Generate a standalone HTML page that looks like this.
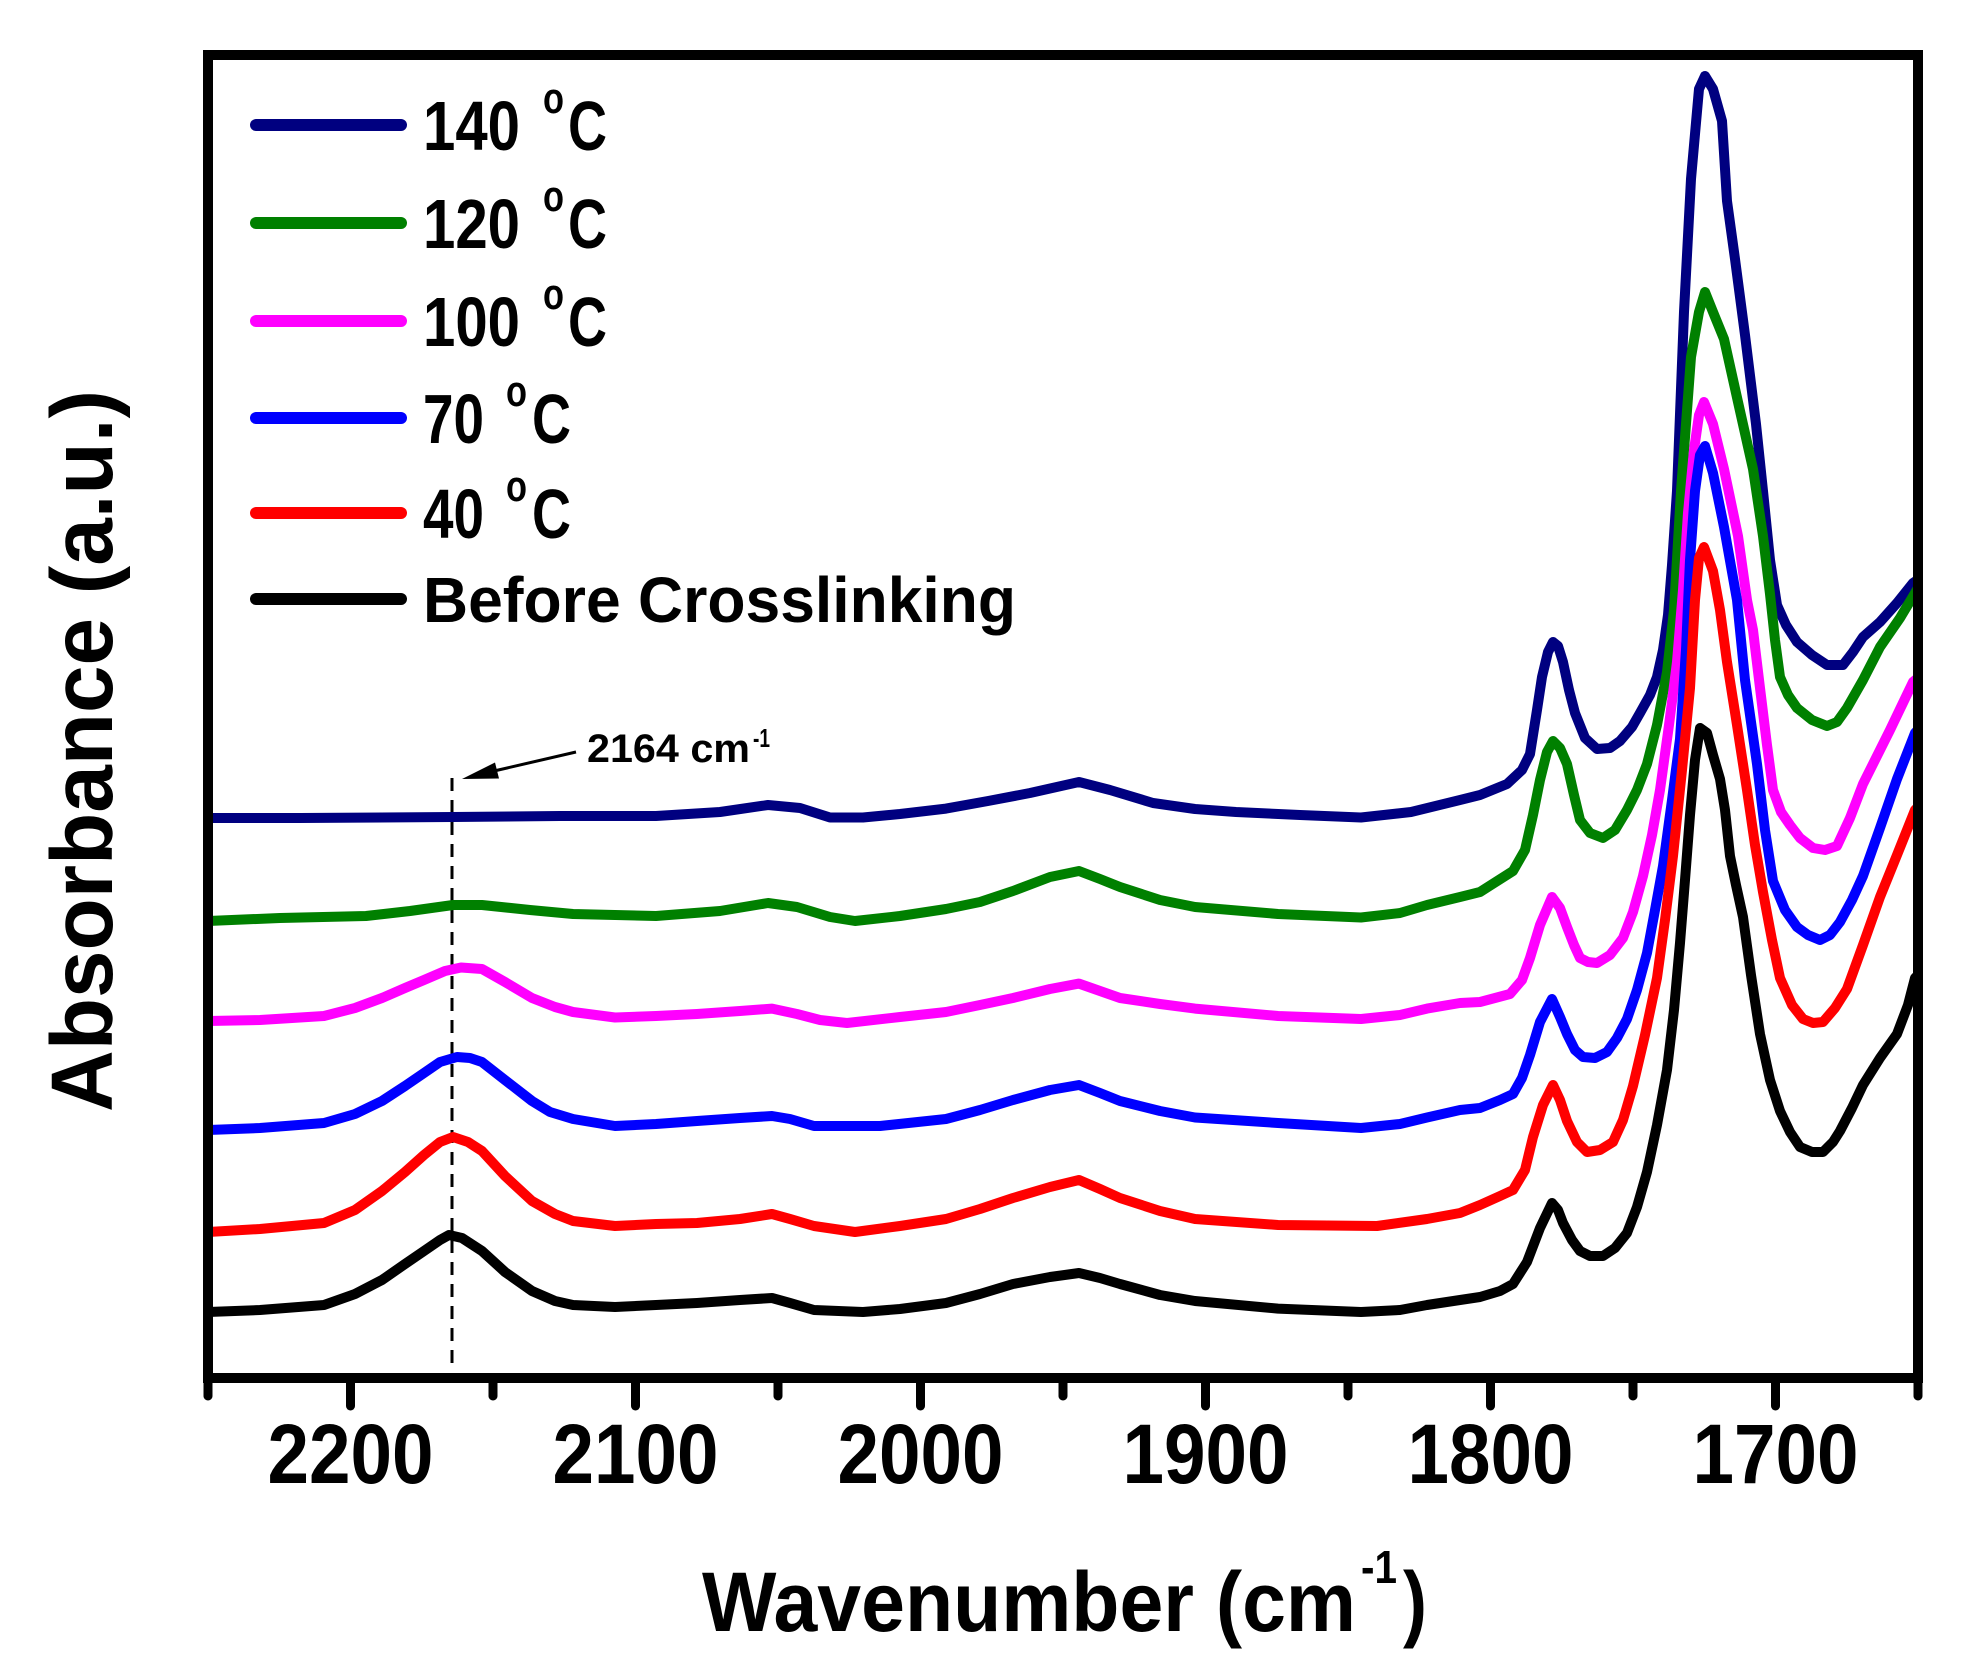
<!DOCTYPE html>
<html>
<head>
<meta charset="utf-8">
<style>
  html, body { margin: 0; padding: 0; background: #ffffff; }
  svg { display: block; }
  text { font-family: "Liberation Sans", Arial, sans-serif; font-weight: bold; fill: #000; }
</style>
</head>
<body>
<svg width="1964" height="1680" viewBox="0 0 1964 1680" xmlns="http://www.w3.org/2000/svg">
  <rect x="0" y="0" width="1964" height="1680" fill="#ffffff"/>
  <defs>
    <clipPath id="plot">
      <rect x="208" y="55" width="1710" height="1323"/>
    </clipPath>
  </defs>

  <!-- dashed marker line -->
  <line x1="452" y1="778" x2="452" y2="1363" stroke="#000" stroke-width="3" stroke-dasharray="13 9"/>

  <g clip-path="url(#plot)" fill="none" stroke-width="10" stroke-linejoin="round" stroke-linecap="round">
    <!-- 140 C navy -->
    <polyline stroke="#000080" points="208,818 300,818 453,817 560,816 656,816 720,812 768,805 800,808 830,817.5 863,817.5 900,814 946,808.6 988,801 1030,793 1079,782 1110,790 1153,803 1195,809 1236,812 1300,815 1361,817.5 1411,812 1460,800 1480,795 1507,784 1522,770 1530,754 1537,710 1542,677 1548,652 1553,642 1558,646 1563,662 1569,690 1575,713 1585,738 1597,749 1610,748 1620,741 1632,727 1640,713 1650,695 1657,677 1663,650 1668,615 1672,565 1677,491 1684,312 1691,179 1699,89 1705,76 1713,89 1722,121 1727,201 1735,259 1745,335 1756,424 1763,491 1770,560 1777,605 1786,625 1797,642 1812,655 1827,665 1843,665 1853,652 1863,637 1880,622 1897,603 1913,583 1925,575"/>
    <!-- 120 C green -->
    <polyline stroke="#008000" points="208,921 280,918 366,916 410,911 453,905 482,905 530,910 573,914 656,916 720,911 768,903 797,907 830,917 855,921 900,916 946,909 980,902 1013,891 1050,877 1079,871 1100,879 1120,887 1160,900 1195,907 1278,914 1361,917.5 1400,913 1427,905 1460,897 1480,892 1513,871 1525,850 1533,815 1540,780 1547,752 1553,741 1560,748 1567,764 1574,795 1580,820 1590,833 1603,838 1615,830 1627,810 1637,790 1647,764 1657,725 1667,672 1674,610 1681,491 1691,357 1699,312 1705,292 1713,312 1724,339 1738,402 1753,469 1763,536 1770,594 1775,640 1780,677 1788,695 1797,708 1812,720 1827,726 1837,722 1847,708 1863,680 1880,647 1900,618 1918,588 1925,580"/>
    <!-- 100 C magenta -->
    <polyline stroke="#ff00ff" points="208,1021 260,1020 324,1016 355,1008 382,998 405,988 424,980 445,971 461,967.5 482,969 505,982 532,998 555,1007 573,1012 615,1017.5 656,1016 697,1014 740,1011 772,1008.6 797,1014 820,1020 847,1023 900,1017 946,1012 980,1005 1013,998 1050,989 1079,983.6 1100,991 1120,998 1160,1004 1195,1008.6 1278,1016 1361,1019 1400,1015 1427,1008.6 1460,1003 1480,1002 1495,998 1510,994 1522,980 1530,958 1540,925 1552,897 1560,908 1567,927 1574,945 1580,958 1588,962 1597,963 1610,955 1623,938 1633,912 1643,876 1652,835 1660,790 1669,725 1677,662 1683,590 1688,513 1694,450 1699,415 1704,402 1713,424 1724,469 1738,536 1747,600 1753,630 1760,688 1767,745 1773,790 1781,812 1790,825 1800,838 1813,848 1825,850 1837,846 1850,818 1863,784 1890,730 1913,682 1925,672"/>
    <!-- 70 C blue -->
    <polyline stroke="#0000ff" points="208,1130 260,1128 324,1123 355,1114 382,1101 405,1086 424,1073 440,1062 457,1057 470,1058 482,1062 505,1080 532,1101 550,1112 573,1119 615,1126 656,1124 697,1121 740,1118 772,1116 790,1119 814,1126 880,1126 946,1119 980,1110 1013,1100 1050,1090 1079,1085 1100,1093 1120,1101 1160,1111 1195,1117.5 1278,1123 1361,1128 1400,1124 1427,1117.5 1460,1110 1480,1108 1500,1100 1513,1094 1522,1078 1530,1055 1540,1022 1552,999 1560,1017 1567,1034 1575,1050 1583,1057 1595,1058 1607,1052 1617,1038 1627,1019 1637,990 1647,953 1655,910 1663,866 1672,800 1680,739 1686,650 1690,560 1695,491 1700,455 1705,446 1713,473 1724,527 1737,600 1745,680 1757,764 1765,830 1773,881 1785,910 1797,927 1808,935 1820,940 1830,935 1840,922 1852,900 1863,876 1880,828 1897,779 1915,733 1925,722"/>
    <!-- 40 C red -->
    <polyline stroke="#ff0000" points="208,1232 260,1229 324,1223 355,1210 382,1191 405,1172 424,1155 440,1142 453,1137 468,1142 482,1151 505,1176 532,1201 555,1214 573,1221 615,1226 656,1224 697,1223 740,1219 772,1214 790,1219 814,1226 855,1232 900,1226 946,1219 980,1209 1013,1198 1050,1187 1079,1180 1100,1189 1120,1198 1160,1211 1195,1219 1278,1225 1377,1226 1427,1219 1460,1213 1480,1205 1500,1196 1513,1190 1525,1170 1533,1137 1543,1105 1553,1085 1560,1100 1567,1121 1577,1142 1587,1152 1600,1150 1613,1142 1623,1120 1633,1086 1645,1035 1657,978 1665,920 1673,856 1682,770 1690,688 1695,600 1699,558 1704,547 1713,571 1720,610 1727,662 1737,725 1747,790 1755,845 1763,892 1772,940 1780,978 1792,1005 1803,1019 1813,1023 1823,1022 1835,1008 1847,989 1863,945 1880,897 1897,855 1915,810 1925,800"/>
    <!-- Before crosslinking black -->
    <polyline stroke="#000000" points="208,1312 260,1310 324,1305 355,1294 382,1280 405,1264 424,1251 440,1240 449,1235 462,1238 482,1251 505,1272 532,1291 555,1301 573,1305 615,1307 656,1305 697,1303 740,1300 772,1298 790,1303 814,1310 863,1312 900,1309 946,1303 980,1294 1013,1284 1050,1277 1079,1273 1100,1278 1120,1284 1160,1295 1195,1301 1278,1308.6 1361,1312 1400,1310 1427,1305 1460,1300 1480,1297 1500,1291 1513,1284 1527,1262 1540,1228 1552,1203 1558,1210 1563,1223 1572,1240 1580,1251 1590,1256 1603,1256 1615,1248 1627,1233 1637,1207 1647,1172 1657,1125 1667,1070 1674,1010 1680,943 1685,880 1690,815 1695,760 1700,728 1707,733 1713,755 1720,779 1725,810 1730,856 1736,885 1743,917 1751,975 1760,1034 1770,1080 1780,1111 1790,1132 1800,1147 1812,1152 1823,1152 1833,1142 1840,1131 1852,1108 1863,1085 1880,1058 1897,1034 1908,1005 1915,978 1925,968"/>
  </g>

  <!-- plot frame -->
  <rect x="208" y="55" width="1710" height="1323" fill="none" stroke="#000" stroke-width="10"/>

  <!-- x ticks -->
  <g stroke="#000" stroke-width="9" stroke-linecap="round">
    <line x1="208" y1="1378" x2="208" y2="1396"/>
    <line x1="350.5" y1="1378" x2="350.5" y2="1406"/>
    <line x1="493" y1="1378" x2="493" y2="1396"/>
    <line x1="635.5" y1="1378" x2="635.5" y2="1406"/>
    <line x1="778" y1="1378" x2="778" y2="1396"/>
    <line x1="920.5" y1="1378" x2="920.5" y2="1406"/>
    <line x1="1063" y1="1378" x2="1063" y2="1396"/>
    <line x1="1205.5" y1="1378" x2="1205.5" y2="1406"/>
    <line x1="1348" y1="1378" x2="1348" y2="1396"/>
    <line x1="1490.5" y1="1378" x2="1490.5" y2="1406"/>
    <line x1="1633" y1="1378" x2="1633" y2="1396"/>
    <line x1="1775.5" y1="1378" x2="1775.5" y2="1406"/>
    <line x1="1918" y1="1378" x2="1918" y2="1396"/>
  </g>

  <!-- x tick labels -->
  <g font-size="84" text-anchor="middle">
    <text x="350.5" y="1483" textLength="166" lengthAdjust="spacingAndGlyphs">2200</text>
    <text x="635.5" y="1483" textLength="166" lengthAdjust="spacingAndGlyphs">2100</text>
    <text x="920.5" y="1483" textLength="166" lengthAdjust="spacingAndGlyphs">2000</text>
    <text x="1205.5" y="1483" textLength="166" lengthAdjust="spacingAndGlyphs">1900</text>
    <text x="1490.5" y="1483" textLength="166" lengthAdjust="spacingAndGlyphs">1800</text>
    <text x="1775.5" y="1483" textLength="166" lengthAdjust="spacingAndGlyphs">1700</text>
  </g>

  <!-- x axis title -->
  <text x="702" y="1631" font-size="84" textLength="654" lengthAdjust="spacingAndGlyphs">Wavenumber (cm</text>
  <text x="1361" y="1583" font-size="46" textLength="36" lengthAdjust="spacingAndGlyphs">-1</text>
  <text x="1403" y="1631" font-size="84" textLength="24" lengthAdjust="spacingAndGlyphs">)</text>

  <!-- y axis title -->
  <text transform="translate(112,751) rotate(-90)" font-size="87" text-anchor="middle" textLength="722" lengthAdjust="spacingAndGlyphs">Absorbance (a.u.)</text>

  <!-- annotation -->
  <text x="587" y="762" font-size="40" textLength="163" lengthAdjust="spacingAndGlyphs">2164 cm</text>
  <text x="753" y="747" font-size="26" textLength="17" lengthAdjust="spacingAndGlyphs">-1</text>
  <line x1="576" y1="752" x2="494" y2="771" stroke="#000" stroke-width="3"/>
  <polygon points="462,779 495,762.5 499,778.5" fill="#000"/>

  <!-- legend -->
  <g stroke-width="12" stroke-linecap="round">
    <line x1="256" y1="125" x2="401" y2="125" stroke="#000080"/>
    <line x1="256" y1="223" x2="401" y2="223" stroke="#008000"/>
    <line x1="256" y1="321" x2="401" y2="321" stroke="#ff00ff"/>
    <line x1="256" y1="418" x2="401" y2="418" stroke="#0000ff"/>
    <line x1="256" y1="513" x2="401" y2="513" stroke="#ff0000"/>
    <line x1="256" y1="599" x2="401" y2="599" stroke="#000000"/>
  </g>
  <g>
    <text x="423" y="150" font-size="70" textLength="97" lengthAdjust="spacingAndGlyphs">140</text>
    <text x="543" y="113" font-size="44" textLength="21" lengthAdjust="spacingAndGlyphs">o</text>
    <text x="568" y="150" font-size="70" textLength="39" lengthAdjust="spacingAndGlyphs">C</text>

    <text x="423" y="248" font-size="70" textLength="97" lengthAdjust="spacingAndGlyphs">120</text>
    <text x="543" y="211" font-size="44" textLength="21" lengthAdjust="spacingAndGlyphs">o</text>
    <text x="568" y="248" font-size="70" textLength="39" lengthAdjust="spacingAndGlyphs">C</text>

    <text x="423" y="346" font-size="70" textLength="97" lengthAdjust="spacingAndGlyphs">100</text>
    <text x="543" y="309" font-size="44" textLength="21" lengthAdjust="spacingAndGlyphs">o</text>
    <text x="568" y="346" font-size="70" textLength="39" lengthAdjust="spacingAndGlyphs">C</text>

    <text x="423" y="443" font-size="70" textLength="61" lengthAdjust="spacingAndGlyphs">70</text>
    <text x="506" y="406" font-size="44" textLength="21" lengthAdjust="spacingAndGlyphs">o</text>
    <text x="532" y="443" font-size="70" textLength="39" lengthAdjust="spacingAndGlyphs">C</text>

    <text x="423" y="538" font-size="70" textLength="61" lengthAdjust="spacingAndGlyphs">40</text>
    <text x="506" y="501" font-size="44" textLength="21" lengthAdjust="spacingAndGlyphs">o</text>
    <text x="532" y="538" font-size="70" textLength="39" lengthAdjust="spacingAndGlyphs">C</text>

    <text x="423" y="622" font-size="64" textLength="593" lengthAdjust="spacingAndGlyphs">Before Crosslinking</text>
  </g>
</svg>
</body>
</html>
